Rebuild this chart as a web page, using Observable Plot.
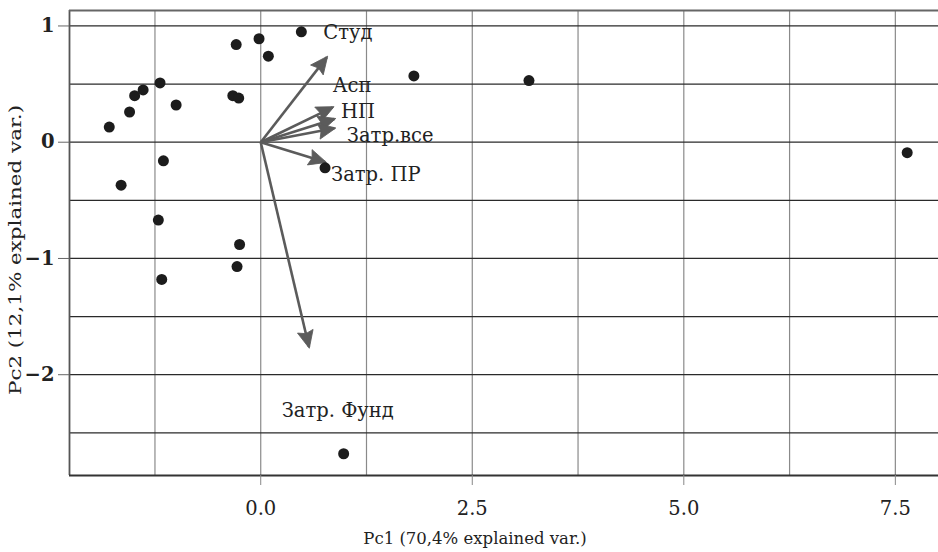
<!DOCTYPE html>
<html><head><meta charset="utf-8">
<script src="https://cdn.jsdelivr.net/npm/d3@7"></script>
<script src="https://cdn.jsdelivr.net/npm/@observablehq/plot@0.6"></script>
<style>body{margin:0;background:#fff}#chart{width:938px;height:552px}</style>
</head><body><div id="chart"></div>
<script>
// Observations (PC scores)
const pointX = [0.48, -0.29, -0.02, 0.09, -1.19, -1.39, -1.49, -1.55, -1.79, -1.00, -0.33, -0.26,
                -1.15, -1.65, 0.76, -1.21, -0.25, -0.28, -1.17, 1.81, 3.17, 7.64, 0.98];
const pointY = [0.95, 0.84, 0.89, 0.74, 0.51, 0.45, 0.40, 0.26, 0.13, 0.32, 0.40, 0.38,
                -0.16, -0.37, -0.22, -0.67, -0.88, -1.07, -1.18, 0.57, 0.53, -0.09, -2.68];
// Variable loadings (arrows) and label positions
const varNames = ["Студ", "Асп", "НП", "Затр.все", "Затр. ПР", "Затр. Фунд"];
const arrowX = [0.78, 0.85, 0.87, 0.87, 0.76, 0.57];
const arrowY = [0.73, 0.30, 0.20, 0.12, -0.17, -1.76];
const labelX = [1.03, 1.08, 1.15, 1.53, 1.36, 0.91];
const labelY = [0.94, 0.485, 0.26, 0.056, -0.28, -2.31];
// Axes
const xDomain = [-2.26, 8.01];
const yDomain = [-2.867, 1.133];
const xTicks = [0, 2.5, 5, 7.5];
const yTicks = [1, 0, -1, -2];
const xGrid = [-1.25, 0, 1.25, 2.5, 3.75, 5, 6.25, 7.5];
const yGrid = [1, 0.5, 0, -0.5, -1, -1.5, -2, -2.5];
const xLabel = "Pc1 (70,4% explained var.)";
const yLabel = "Pc2 (12,1% explained var.)";

const points = pointX.map((x, i) => ({x, y: pointY[i]}));
const arrows = varNames.map((name, i) => ({name, x: arrowX[i], y: arrowY[i], lx: labelX[i], ly: labelY[i]}));

const minus = d => d < 0 ? "\u2212" + Math.abs(d) : String(d);

// Filled arrowhead symbol, tip at the origin, pointing up
const arrowHead = {
  draw(context) {
    context.moveTo(0, -1.5);
    context.lineTo(8, 16);
    context.lineTo(0, 13.5);
    context.lineTo(-8, 16);
    context.closePath();
  }
};

const baseOptions = {
  width: 938, height: 552,
  marginLeft: 69, marginRight: 0, marginTop: 10, marginBottom: 77,
  style: {fontFamily: "'DejaVu Serif', serif", fontSize: "16px", color: "#222", background: "#fff"},
  x: {domain: xDomain},
  y: {domain: yDomain}
};

// First pass: obtain the scales to orient the arrowheads in screen space
const probe = Plot.plot({...baseOptions, marks: [Plot.dot(points, {x: "x", y: "y"})]});
const sx = probe.scale("x"), sy = probe.scale("y");
arrows.forEach(a => {
  const dx = sx.apply(a.x) - sx.apply(0);
  const dy = sy.apply(a.y) - sy.apply(0);
  a.angle = Math.atan2(dx, -dy) * 180 / Math.PI;
});

const chart = Plot.plot({
  ...baseOptions,
  marks: [
    Plot.ruleX(xGrid, {stroke: "#8a8a8a", strokeWidth: 1.2}),
    Plot.ruleY(yGrid, {stroke: "#2a2a2a", strokeWidth: 1.2}),
    Plot.ruleX([xDomain[0]], {stroke: "#555", strokeWidth: 1.8}),
    Plot.ruleY([yDomain[0]], {stroke: "#333", strokeWidth: 2}),
    Plot.ruleY([yDomain[1]], {stroke: "#666", strokeWidth: 2}),
    Plot.axisX(xTicks, {tickSize: 10, tickPadding: 16, stroke: "#888", tickFormat: d => d.toFixed(1), label: null, fontSize: 19.5}),
    Plot.axisY(yTicks, {tickSize: 11, tickPadding: 4, stroke: "#666", tickFormat: minus, label: null, fontSize: 19.5, fontWeight: "bold"}),
    Plot.link(arrows, {x1: () => 0, y1: () => 0, x2: "x", y2: "y", stroke: "#5b5b5b", strokeWidth: 2.6}),
    Plot.dot(arrows, {x: "x", y: "y", symbol: arrowHead, rotate: "angle", fill: "#5b5b5b", stroke: "#5b5b5b", strokeWidth: 0.8}),
    Plot.dot(points, {x: "x", y: "y", r: 5.5, fill: "#1c1c1c", stroke: "none"}),
    Plot.text(arrows, {x: "lx", y: "ly", text: "name", fontSize: 19.5, fill: "#222"}),
    Plot.text([xLabel], {frameAnchor: "bottom", textAnchor: "middle", lineAnchor: "middle", text: d => d, dx: -29, dy: 63, fontSize: 16.5, fill: "#222", className: "xlab"}),
    Plot.text([yLabel], {frameAnchor: "left", textAnchor: "middle", lineAnchor: "middle", text: d => d, rotate: -90, dx: -54, dy: 7, fontSize: 17.5, fill: "#222", className: "ylab"})
  ]
});

// Reference y-axis title is drawn longer than the x-axis title
const yl = chart.querySelector(".ylab text");
if (yl) { yl.setAttribute("textLength", "290"); yl.setAttribute("lengthAdjust", "spacingAndGlyphs"); }

document.getElementById("chart").appendChild(chart);
</script>
</body></html>
